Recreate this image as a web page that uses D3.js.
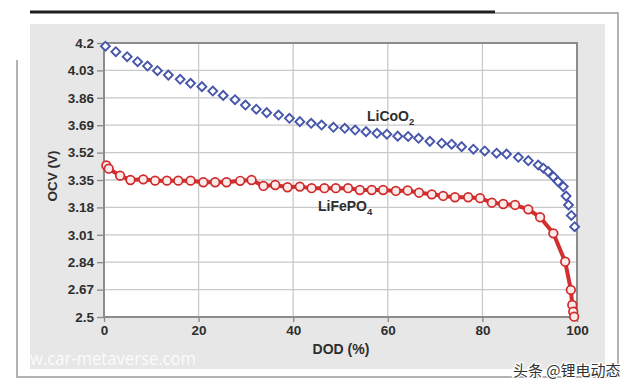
<!DOCTYPE html>
<html>
<head>
<meta charset="utf-8">
<script src="https://cdn.jsdelivr.net/npm/d3@7"></script>
<style>
  html, body { margin: 0; padding: 0; background: #fff; }
  svg { display: block; font-family: "Liberation Sans", Arial, sans-serif; }
</style>
</head>
<body>
<svg id="chart" width="640" height="390"></svg>
<script>
// Axis ticks
const xTicks = [0, 20, 40, 60, 80, 100];
const yTicks = [2.5, 2.67, 2.84, 3.01, 3.18, 3.35, 3.52, 3.69, 3.86, 4.03, 4.2];

// LiCoO2 (blue diamonds)
const licooDod = [0.3, 2.5, 4.9, 7.1, 9.2, 11.3, 13.6, 16.1, 18.3, 20.7, 23.0, 25.2, 27.7, 29.9,
  32.2, 34.4, 36.9, 39.2, 41.4, 43.8, 46.0, 48.5, 50.9, 53.1, 55.4, 57.7, 59.8, 62.1, 64.3,
  66.5, 68.9, 71.4, 73.5, 75.6, 78.1, 80.5, 83.0, 85.1, 87.6, 89.7, 91.8, 92.9, 93.9, 95.0,
  96.0, 97.1, 97.7, 98.2, 98.8, 99.5];
const licooOcv = [4.18, 4.146, 4.115, 4.084, 4.057, 4.028, 4.001, 3.975, 3.95, 3.929, 3.902, 3.875,
  3.848, 3.815, 3.789, 3.768, 3.753, 3.733, 3.712, 3.702, 3.691, 3.677, 3.671, 3.66, 3.65, 3.64,
  3.634, 3.622, 3.62, 3.609, 3.59, 3.578, 3.572, 3.557, 3.541, 3.53, 3.516, 3.511, 3.491, 3.47,
  3.443, 3.423, 3.402, 3.371, 3.34, 3.309, 3.25, 3.195, 3.13, 3.06];

// LiFePO4 (red circles + line)
const lfpDod = [0.5, 1.0, 3.4, 5.6, 8.3, 10.8, 13.3, 15.7, 18.3, 21.0, 23.5, 25.9, 28.8, 31.2,
  33.7, 36.2, 38.8, 41.4, 43.9, 46.6, 49.0, 51.6, 54.1, 56.6, 59.0, 61.7, 64.2, 66.6, 69.3,
  71.7, 74.2, 77.0, 79.5, 82.0, 84.4, 86.9, 89.7, 92.2, 95.0, 97.5, 98.7, 99.0, 99.2, 99.4];
const lfpOcv = [3.44, 3.42, 3.377, 3.35, 3.354, 3.346, 3.346, 3.346, 3.346, 3.336, 3.336, 3.336,
  3.345, 3.35, 3.313, 3.319, 3.305, 3.309, 3.299, 3.299, 3.299, 3.299, 3.288, 3.288, 3.288,
  3.282, 3.285, 3.271, 3.261, 3.251, 3.243, 3.243, 3.237, 3.209, 3.201, 3.195, 3.168, 3.119,
  3.019, 2.843, 2.668, 2.575, 2.533, 2.502];

const svg = d3.select("#chart");

// Plot area
const plotL = 104, plotR = 577, plotT = 43, plotB = 317;
const x = d3.scaleLinear().domain([0, 100]).range([plotL, plotR]);
const y = d3.scaleLinear().domain([2.5, 4.2]).range([plotB, plotT]);

// Outer frame (scanned page look)
svg.append("rect").attr("x", 30).attr("y", 24).attr("width", 575).attr("height", 345)
  .attr("fill", "#e7e7e7");
svg.append("line").attr("x1", 30).attr("x2", 495).attr("y1", 12).attr("y2", 12)
  .attr("stroke", "#1e1e1e").attr("stroke-width", 3);
svg.append("path").attr("d", "M495,13 H618 V377 H17 V60")
  .attr("fill", "none").attr("stroke", "#9a9a9a").attr("stroke-width", 1.5);

// Plot background
svg.append("rect").attr("x", plotL).attr("y", plotT)
  .attr("width", plotR - plotL).attr("height", plotB - plotT).attr("fill", "#fff");

// Grid lines
const grid = svg.append("g").attr("class", "grid");
grid.selectAll(".hgrid").data(yTicks.slice(1, -1)).enter().append("line")
  .attr("x1", plotL).attr("x2", plotR)
  .attr("y1", d => y(d)).attr("y2", d => y(d))
  .attr("stroke", "#c9c9c9").attr("stroke-width", 1.3);
grid.selectAll(".vgrid").data(xTicks.slice(1, -1)).enter().append("line")
  .attr("x1", d => x(d)).attr("x2", d => x(d))
  .attr("y1", plotT).attr("y2", plotB)
  .attr("stroke", "#c9c9c9").attr("stroke-width", 1.3);

// Axes
const yAxis = svg.append("g").attr("transform", `translate(${plotL},0)`)
  .call(d3.axisLeft(y).tickValues(yTicks).tickFormat(d => String(d)).tickSize(7).tickPadding(3));
const xAxis = svg.append("g").attr("transform", `translate(0,${plotB})`)
  .call(d3.axisBottom(x).tickValues(xTicks).tickSize(5).tickPadding(3));
[yAxis, xAxis].forEach(g => {
  g.select(".domain").remove();
  g.selectAll(".tick line").attr("stroke", "#8a8a8a").attr("stroke-width", 1.3);
  g.selectAll(".tick text").attr("fill", "#2e2e2e").attr("font-size", 13.5)
    .attr("font-weight", "bold").attr("font-family", "Liberation Sans, Arial, sans-serif");
});

// Plot border
svg.append("rect").attr("x", plotL).attr("y", plotT)
  .attr("width", plotR - plotL).attr("height", plotB - plotT)
  .attr("fill", "none").attr("stroke", "#8c8c8c").attr("stroke-width", 2);

// Axis titles
svg.append("text").attr("x", 341).attr("y", 354).attr("text-anchor", "middle")
  .attr("font-size", 14).attr("font-weight", "bold").attr("fill", "#2e2e2e").text("DOD (%)");
svg.append("text").attr("transform", "translate(57,176) rotate(-90)")
  .attr("text-anchor", "middle").attr("font-size", 13.5).attr("font-weight", "bold")
  .attr("fill", "#2e2e2e").text("OCV (V)");

// LiFePO4 line + markers
const lfp = lfpDod.map((d, i) => ({ dod: d, v: lfpOcv[i] }));
const line = d3.line().x(d => x(d.dod)).y(d => y(d.v));
svg.append("path").datum(lfp).attr("d", line)
  .attr("fill", "none").attr("stroke", "#d22f2f").attr("stroke-width", 4)
  .attr("stroke-linejoin", "round");
svg.selectAll(".lfp").data(lfp).enter().append("circle")
  .attr("class", "lfp")
  .attr("cx", d => x(d.dod)).attr("cy", d => y(d.v)).attr("r", 4.3)
  .attr("fill", "#fbeaea").attr("stroke", "#d02a2a").attr("stroke-width", 1.7);

// LiCoO2 markers
const licoo = licooDod.map((d, i) => ({ dod: d, v: licooOcv[i] }));
const diamond = d3.symbol().type(d3.symbolSquare).size(40);
svg.selectAll(".licoo").data(licoo).enter().append("path")
  .attr("class", "licoo")
  .attr("d", diamond)
  .attr("transform", d => `translate(${x(d.dod)},${y(d.v)}) rotate(45)`)
  .attr("fill", "#fff").attr("stroke", "#4656ab").attr("stroke-width", 1.9);

// Series labels
const lab1 = svg.append("text").attr("x", 367).attr("y", 121)
  .attr("font-size", 14).attr("font-weight", "bold").attr("fill", "#2e2e2e");
lab1.append("tspan").text("LiCoO");
lab1.append("tspan").attr("dy", 4).attr("font-size", 9.5).text("2");
const lab2 = svg.append("text").attr("x", 318).attr("y", 211)
  .attr("font-size", 14).attr("font-weight", "bold").attr("fill", "#2e2e2e");
lab2.append("tspan").text("LiFePO");
lab2.append("tspan").attr("dy", 4).attr("font-size", 9.5).text("4");

// Watermarks
svg.append("text").attr("x", 30).attr("y", 365)
  .attr("font-family", "Open Sans, sans-serif").attr("font-size", 18)
  .attr("textLength", 166).attr("lengthAdjust", "spacingAndGlyphs")
  .attr("fill", "#fff").attr("fill-opacity", 0.85).text("w.car-metaverse.com");
svg.append("text").attr("x", 513).attr("y", 376)
  .attr("font-family", "Noto Sans CJK SC, sans-serif").attr("font-size", 15)
  .attr("fill", "#333").attr("stroke", "#fff").attr("stroke-width", 2.5)
  .attr("paint-order", "stroke").text("头条 @锂电动态");
</script>
</body>
</html>
